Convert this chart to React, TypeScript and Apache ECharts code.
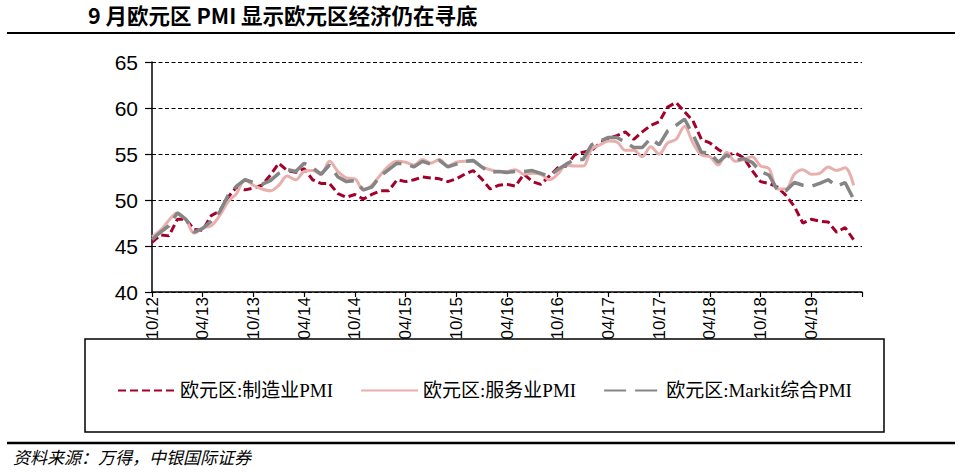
import React, { useEffect, useRef } from "react";
import * as echarts from "echarts";

const categories = [
  "10/12", "11/12", "12/12",
  "01/13", "02/13", "03/13", "04/13", "05/13", "06/13", "07/13", "08/13", "09/13", "10/13", "11/13", "12/13",
  "01/14", "02/14", "03/14", "04/14", "05/14", "06/14", "07/14", "08/14", "09/14", "10/14", "11/14", "12/14",
  "01/15", "02/15", "03/15", "04/15", "05/15", "06/15", "07/15", "08/15", "09/15", "10/15", "11/15", "12/15",
  "01/16", "02/16", "03/16", "04/16", "05/16", "06/16", "07/16", "08/16", "09/16", "10/16", "11/16", "12/16",
  "01/17", "02/17", "03/17", "04/17", "05/17", "06/17", "07/17", "08/17", "09/17", "10/17", "11/17", "12/17",
  "01/18", "02/18", "03/18", "04/18", "05/18", "06/18", "07/18", "08/18", "09/18", "10/18", "11/18", "12/18",
  "01/19", "02/19", "03/19", "04/19", "05/19", "06/19", "07/19", "08/19", "09/19", "10/19",
];

const manufacturing = [
  45.4, 46.2, 46.1,
  47.9, 47.9, 46.8, 46.7, 48.3, 48.8, 50.3, 51.4, 51.1, 51.3, 51.6, 52.7,
  54.0, 53.2, 53.0, 53.4, 52.2, 51.8, 51.8, 50.7, 50.3, 50.6, 50.1, 50.6,
  51.0, 51.0, 52.2, 52.0, 52.2, 52.5, 52.4, 52.3, 52.0, 52.3, 52.8, 53.2,
  52.3, 51.2, 51.6, 51.7, 51.5, 52.8, 52.0, 51.7, 52.6, 53.5, 53.7, 54.9,
  55.2, 55.4, 56.2, 56.7, 57.0, 57.4, 56.6, 57.4, 58.1, 58.5, 60.1, 60.6,
  59.6, 58.6, 56.6, 56.2, 55.5, 54.9, 55.1, 54.6, 53.2, 52.0, 51.8, 51.4,
  50.5, 49.3, 47.5, 47.9, 47.7, 47.6, 46.5, 47.0, 45.7,
];

const services = [
  46.0, 46.7, 47.8,
  48.6, 47.9, 46.4, 47.0, 47.2, 48.3, 49.8, 50.7, 52.2, 51.6, 51.2, 51.0,
  51.6, 52.6, 52.2, 53.1, 53.2, 52.8, 54.2, 53.1, 52.4, 52.3, 51.1, 51.6,
  52.7, 53.7, 54.2, 54.1, 53.8, 54.4, 54.0, 54.4, 53.7, 54.1, 54.2, 54.2,
  53.6, 53.3, 53.1, 53.1, 53.3, 52.8, 52.9, 52.8, 52.2, 52.8, 53.8, 53.7,
  53.7, 55.5, 56.0, 56.4, 56.3, 55.4, 55.4, 54.7, 55.8, 55.0, 56.2, 56.6,
  58.0, 56.2, 54.9, 54.7, 53.8, 55.2, 54.2, 54.4, 54.7, 53.7, 53.4, 51.2,
  51.2, 52.8, 53.3, 52.8, 52.9, 53.6, 53.2, 53.5, 51.6,
];

const composite = [
  45.7, 46.5, 47.2,
  48.6, 47.9, 46.5, 46.9, 47.7, 48.7, 50.5, 51.5, 52.2, 51.9, 51.7, 52.1,
  52.9, 53.3, 53.1, 54.0, 53.5, 52.8, 53.8, 52.5, 52.0, 52.1, 51.1, 51.4,
  52.6, 53.3, 54.0, 53.9, 53.6, 54.2, 53.9, 54.3, 53.6, 53.9, 54.2, 54.3,
  53.6, 53.0, 53.1, 53.0, 53.1, 53.1, 53.2, 52.9, 52.6, 53.3, 53.9, 54.4,
  54.4, 56.0, 56.4, 56.8, 56.8, 56.3, 55.7, 55.7, 56.7, 56.0, 57.5, 58.1,
  58.8, 57.1, 55.2, 55.1, 54.1, 54.9, 54.3, 54.5, 54.1, 53.1, 52.7, 51.1,
  51.0, 51.9, 51.6, 51.5, 51.8, 52.2, 51.5, 51.9, 50.1,
];

const seriesNames = ["欧元区:制造业PMI", "欧元区:服务业PMI", "欧元区:Markit综合PMI"];
const titleText = "9 月欧元区 PMI 显示欧元区经济仍在寻底";
const sourceText = "资料来源：万得，中银国际证券";

const sansFont = "'Liberation Sans', Arial, sans-serif";
const serifFont = "'Liberation Serif', 'Noto Sans CJK SC', serif";
const cjkFont = "'Noto Sans CJK SC', sans-serif";

export default function App() {
  const ref = useRef<HTMLDivElement>(null);

  useEffect(() => {
    if (!ref.current) return;
    const chart = echarts.init(ref.current, null, { renderer: "svg" });
    const lastIdx = categories.length - 1;
    chart.setOption({
      animation: false,
      backgroundColor: "#ffffff",
      grid: { left: 152, right: 99, top: 62, bottom: 182, containLabel: false },
      xAxis: {
        type: "category",
        data: categories,
        boundaryGap: false,
        axisLine: { lineStyle: { color: "#000", width: 1.5 } },
        axisTick: { interval: 5, length: 5, lineStyle: { color: "#000", width: 1.2 } },
        axisLabel: {
          interval: 5,
          rotate: 90,
          margin: 5,
          fontSize: 17,
          color: "#000",
          fontFamily: sansFont,
          formatter: (v: string, i: number) => (i === lastIdx ? "" : v),
        },
        splitLine: { show: false },
      },
      yAxis: {
        type: "value",
        min: 40,
        max: 65,
        interval: 5,
        axisLine: { show: true, lineStyle: { color: "#000", width: 1.5 } },
        axisTick: { show: true, length: 7, lineStyle: { color: "#000", width: 1.2 } },
        axisLabel: { fontSize: 21, color: "#000", fontFamily: sansFont, margin: 14 },
        splitLine: { lineStyle: { color: "#000", width: 1, type: [4, 2.5] } },
      },
      legend: {
        left: 112,
        top: 376,
        itemWidth: 57,
        itemHeight: 14,
        itemGap: 27,
        data: seriesNames,
        itemStyle: { opacity: 0 },
        textStyle: { fontSize: 19, color: "#000", fontFamily: serifFont },
      },
      series: [
        {
          name: seriesNames[0],
          type: "line",
          data: manufacturing,
          symbol: "none",
          showSymbol: false,
          lineStyle: { color: "#A3002B", width: 3, type: [8, 4] },
          itemStyle: { color: "#A3002B" },
        },
        {
          name: seriesNames[1],
          type: "line",
          data: services,
          symbol: "none",
          showSymbol: false,
          smooth: 0.35,
          lineStyle: { color: "#E8AFAD", width: 3, type: "solid" },
          itemStyle: { color: "#E8AFAD" },
        },
        {
          name: seriesNames[2],
          type: "line",
          data: composite,
          symbol: "none",
          showSymbol: false,
          lineStyle: { color: "#858585", width: 3.5, type: [22, 9] },
          itemStyle: { color: "#858585" },
        },
      ],
      graphic: [
        {
          type: "text",
          left: 88,
          top: 4,
          style: { text: titleText, fontSize: 21.5, fontWeight: "bold", fill: "#000", fontFamily: cjkFont },
        },
        {
          type: "line",
          shape: { x1: 7, y1: 33, x2: 955, y2: 33 },
          style: { stroke: "#000", lineWidth: 2 },
        },
        {
          type: "rect",
          shape: { x: 85, y: 339, width: 799, height: 93 },
          style: { fill: "none", stroke: "#000", lineWidth: 1.5 },
          z: -1,
        },
        {
          type: "line",
          shape: { x1: 7, y1: 443, x2: 955, y2: 443 },
          style: { stroke: "#000", lineWidth: 2.5 },
        },
        {
          type: "text",
          left: 13,
          top: 448,
          style: { text: sourceText, fontSize: 17, fontStyle: "italic", fill: "#000", fontFamily: cjkFont },
        },
      ],
    });
    return () => chart.dispose();
  }, []);

  return (
    <div
      ref={ref}
      style={{ position: "fixed", left: 0, top: 0, width: 961, height: 474, background: "#fff" }}
    />
  );
}
